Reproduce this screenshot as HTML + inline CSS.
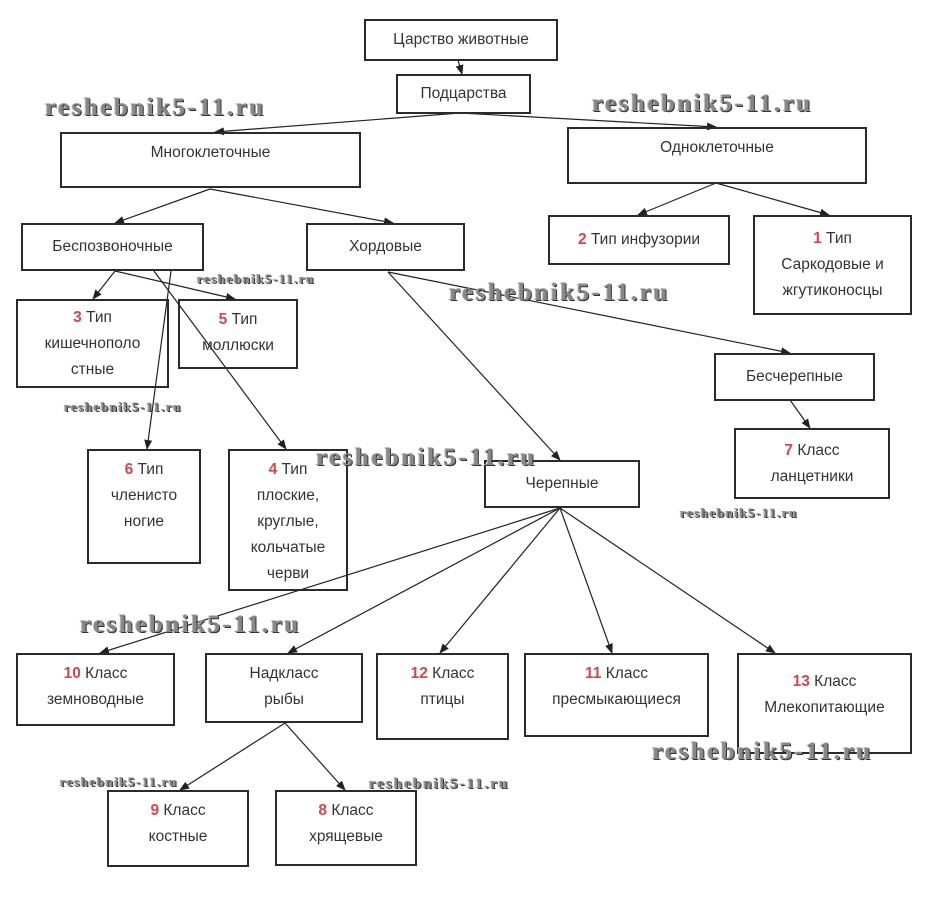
<!DOCTYPE html>
<html><head><meta charset="utf-8"><style>
body{margin:0;background:#fff;width:926px;height:920px;position:relative;overflow:hidden;font-family:"Liberation Sans","DejaVu Sans",sans-serif}
.b{position:absolute;border:2px solid #2a2a2a;box-sizing:border-box;display:flex;align-items:center;justify-content:center;text-align:center;font-size:15.5px;color:#333;line-height:26px;background:transparent}
.b.t{align-items:flex-start;padding-top:6px}
.r{color:#d9434a;font-weight:bold}
.w{position:absolute;font-family:"Liberation Serif",serif;font-weight:bold;color:#888;text-shadow:1px 1px 0 #333,-1px 0 0 #bbb;white-space:nowrap}
.w.L{font-size:25px;letter-spacing:2.5px}.w.S{font-size:13px;letter-spacing:1.5px}
svg{position:absolute;left:0;top:0}
</style></head><body>
<svg width="926" height="920">
<defs><marker id="a" markerWidth="10" markerHeight="8" refX="9" refY="4" orient="auto" markerUnits="userSpaceOnUse"><path d="M0,0 L10,4 L0,8z" fill="#222"/></marker></defs>
<g stroke="#222" stroke-width="1.2" fill="none" marker-end="url(#a)">
<line x1="458" y1="60" x2="462" y2="74"/>
<line x1="460" y1="113" x2="215" y2="132"/>
<line x1="460" y1="113" x2="716" y2="127"/>
<line x1="716" y1="183" x2="638" y2="215"/>
<line x1="716" y1="183" x2="829" y2="215"/>
<line x1="210" y1="189" x2="115" y2="223"/>
<line x1="210" y1="189" x2="393" y2="223"/>
<line x1="115" y1="271" x2="93" y2="299"/>
<line x1="115" y1="271" x2="235" y2="299"/>
<line x1="154" y1="271" x2="286" y2="449"/>
<line x1="171" y1="271" x2="147" y2="449"/>
<line x1="388" y1="272" x2="560" y2="460"/>
<line x1="388" y1="272" x2="790" y2="353"/>
<line x1="790" y1="400" x2="810" y2="428"/>
<line x1="560" y1="508" x2="100" y2="653"/>
<line x1="560" y1="508" x2="288" y2="653"/>
<line x1="560" y1="508" x2="440" y2="653"/>
<line x1="560" y1="508" x2="612" y2="653"/>
<line x1="560" y1="508" x2="775" y2="653"/>
<line x1="285" y1="723" x2="180" y2="790"/>
<line x1="285" y1="723" x2="345" y2="790"/>
</g></svg>
<div class="b" style="left:364px;top:19px;width:194px;height:42px">Царство животные</div>
<div class="b" style="left:396px;top:74px;width:135px;height:40px">Подцарства</div>
<div class="b t" style="left:60px;top:132px;width:301px;height:56px">Многоклеточные</div>
<div class="b t" style="left:567px;top:127px;width:300px;height:57px">Одноклеточные</div>
<div class="b" style="left:21px;top:223px;width:183px;height:48px">Беспозвоночные</div>
<div class="b" style="left:306px;top:223px;width:159px;height:48px">Хордовые</div>
<div class="b" style="left:548px;top:215px;width:182px;height:50px"><span><span class="r">2</span> Тип инфузории</span></div>
<div class="b" style="left:753px;top:215px;width:159px;height:100px"><span><span class="r">1</span> Тип<br>Саркодовые и<br>жгутиконосцы</span></div>
<div class="b" style="left:16px;top:299px;width:153px;height:89px"><span><span class="r">3</span> Тип<br>кишечнополо<br>стные</span></div>
<div class="b t" style="left:178px;top:299px;width:120px;height:70px"><span><span class="r">5</span> Тип<br>моллюски</span></div>
<div class="b" style="left:714px;top:353px;width:161px;height:48px">Бесчерепные</div>
<div class="b" style="left:734px;top:428px;width:156px;height:71px"><span><span class="r">7</span> Класс<br>ланцетники</span></div>
<div class="b t" style="left:87px;top:449px;width:114px;height:115px"><span><span class="r">6</span> Тип<br>членисто<br>ногие</span></div>
<div class="b t" style="left:228px;top:449px;width:120px;height:142px"><span><span class="r">4</span> Тип<br>плоские,<br>круглые,<br>кольчатые<br>черви</span></div>
<div class="b" style="left:484px;top:460px;width:156px;height:48px">Черепные</div>
<div class="b t" style="left:16px;top:653px;width:159px;height:73px"><span><span class="r">10</span> Класс<br>земноводные</span></div>
<div class="b t" style="left:205px;top:653px;width:158px;height:70px"><span>Надкласс<br>рыбы</span></div>
<div class="b t" style="left:376px;top:653px;width:133px;height:87px"><span><span class="r">12</span> Класс<br>птицы</span></div>
<div class="b t" style="left:524px;top:653px;width:185px;height:84px"><span><span class="r">11</span> Класс<br>пресмыкающиеся</span></div>
<div class="b t" style="left:737px;top:653px;width:175px;height:101px"><span style="padding-top:8px;display:block"><span class="r">13</span> Класс<br>Млекопитающие</span></div>
<div class="b t" style="left:107px;top:790px;width:142px;height:77px"><span><span class="r">9</span> Класс<br>костные</span></div>
<div class="b t" style="left:275px;top:790px;width:142px;height:76px"><span><span class="r">8</span> Класс<br>хрящевые</span></div>
<div class="w L" style="left:45px;top:94px">reshebnik5-11.ru</div>
<div class="w L" style="left:592px;top:90px">reshebnik5-11.ru</div>
<div class="w L" style="left:449px;top:279px">reshebnik5-11.ru</div>
<div class="w L" style="left:316px;top:444px">reshebnik5-11.ru</div>
<div class="w L" style="left:80px;top:611px">reshebnik5-11.ru</div>
<div class="w L" style="left:652px;top:738px">reshebnik5-11.ru</div>
<div class="w S" style="left:197px;top:271px">reshebnik5-11.ru</div>
<div class="w S" style="left:64px;top:399px">reshebnik5-11.ru</div>
<div class="w S" style="left:680px;top:505px">reshebnik5-11.ru</div>
<div class="w S" style="left:60px;top:774px">reshebnik5-11.ru</div>
<div class="w S" style="left:369px;top:776px;font-size:15px;letter-spacing:2px">reshebnik5-11.ru</div>
</body></html>
